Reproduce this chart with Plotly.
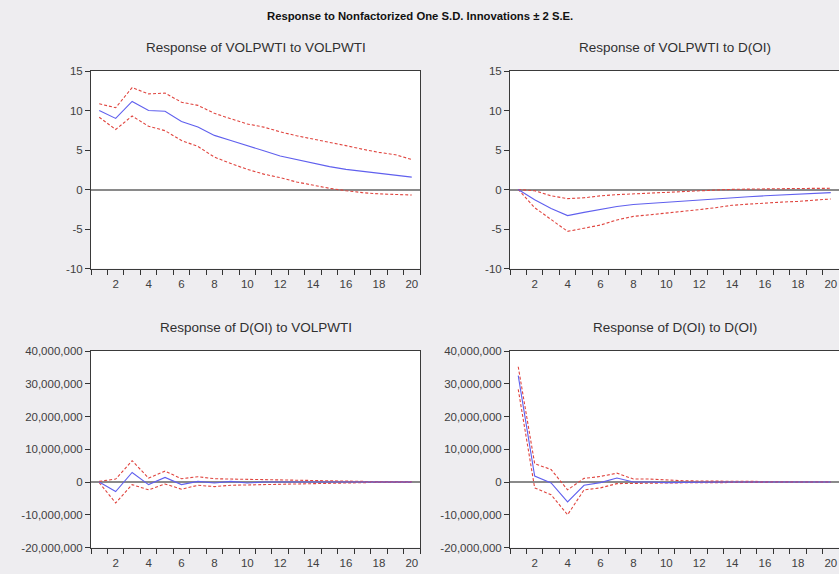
import plotly.graph_objects as go

periods = list(range(1, 21))

# Response of VOLPWTI to VOLPWTI
vv_resp = [10.0, 9.0, 11.15, 10.0, 9.9, 8.6, 7.9, 6.85, 6.2, 5.5, 4.9, 4.25, 3.8, 3.35, 2.9, 2.55, 2.3, 2.0, 1.8, 1.57]
vv_up = [10.85, 10.35, 12.9, 12.1, 12.2, 11.05, 10.65, 9.65, 8.95, 8.3, 7.9, 7.3, 6.8, 6.4, 6.0, 5.55, 5.1, 4.7, 4.4, 3.8]
vv_lo = [9.15, 7.6, 9.3, 8.0, 7.45, 6.2, 5.45, 4.1, 3.3, 2.55, 1.95, 1.5, 0.95, 0.55, 0.15, -0.15, -0.4, -0.55, -0.65, -0.7]

# Response of VOLPWTI to D(OI)
vd_resp = [0.0, -1.3, -2.4, -3.3, -2.9, -2.5, -2.15, -1.9, -1.75, -1.6, -1.47, -1.35, -1.2, -1.05, -0.92, -0.8, -0.72, -0.65, -0.52, -0.4]
vd_up = [0.0, -0.15, -0.8, -1.15, -1.05, -0.8, -0.65, -0.55, -0.45, -0.35, -0.2, -0.1, 0.0, 0.02, 0.05, 0.1, 0.12, 0.13, 0.14, 0.15]
vd_lo = [0.0, -2.3, -3.8, -5.3, -4.9, -4.5, -3.85, -3.4, -3.2, -3.0, -2.8, -2.55, -2.3, -2.0, -1.85, -1.7, -1.6, -1.5, -1.35, -1.2]

# Response of D(OI) to VOLPWTI
dv_resp = [0.0, -2.9e6, 2.9e6, -0.8e6, 1.4e6, -0.8e6, 0.2e6, -0.3e6, 0.2e6, -0.3e6, 0.0, -0.05e6, 0.02e6, -0.02e6, 0.01e6, 0.0, 0.0, 0.0, 0.0, 0.0]
dv_up = [0.2e6, 0.9e6, 6.5e6, 1.2e6, 3.3e6, 1.0e6, 1.6e6, 1.0e6, 0.9e6, 0.8e6, 0.7e6, 0.6e6, 0.4e6, 0.3e6, 0.25e6, 0.2e6, 0.15e6, 0.1e6, 0.1e6, 0.1e6]
dv_lo = [-0.2e6, -6.4e6, -0.8e6, -2.4e6, -0.6e6, -2.2e6, -1.0e6, -1.4e6, -1.0e6, -0.9e6, -0.8e6, -0.6e6, -0.4e6, -0.3e6, -0.25e6, -0.2e6, -0.15e6, -0.1e6, -0.1e6, -0.1e6]

# Response of D(OI) to D(OI)
dd_resp = [32.5e6, 1.8e6, -0.3e6, -6.1e6, -1.0e6, -0.2e6, 1.2e6, 0.0, 0.0, -0.2e6, -0.1e6, 0.0, 0.0, 0.0, 0.0, 0.0, 0.0, 0.0, 0.0, 0.0]
dd_up = [35.2e6, 5.6e6, 3.8e6, -2.4e6, 1.1e6, 1.7e6, 2.7e6, 0.9e6, 0.9e6, 0.6e6, 0.4e6, 0.3e6, 0.25e6, 0.2e6, 0.1e6, 0.05e6, 0.05e6, 0.03e6, 0.02e6, 0.02e6]
dd_lo = [28.3e6, -1.8e6, -3.9e6, -10.0e6, -2.4e6, -1.8e6, -0.5e6, -0.5e6, -0.4e6, -0.3e6, -0.25e6, -0.2e6, -0.15e6, -0.1e6, -0.1e6, -0.05e6, -0.05e6, -0.03e6, -0.02e6, -0.02e6]

titles = ["Response of VOLPWTI to VOLPWTI", "Response of VOLPWTI to D(OI)",
          "Response of D(OI) to VOLPWTI", "Response of D(OI) to D(OI)"]
panels = [(vv_resp, vv_up, vv_lo), (vd_resp, vd_up, vd_lo),
          (dv_resp, dv_up, dv_lo), (dd_resp, dd_up, dd_lo)]

top_ticks = [-10, -5, 0, 5, 10, 15]
bot_ticks = [-20000000, -10000000, 0, 10000000, 20000000, 30000000, 40000000]
x_labels = list(range(2, 21, 2))
x_minor = [i + 0.5 for i in range(0, 21)]

W, H = 839, 574
BLUE = "#6060ee"
RED = "#e0453f"
FONT = "Liberation Sans, Arial, sans-serif"

xdoms = [[91 / W, 420 / W], [510 / W, 1.0]]
ydoms = [[(H - 268.5) / H, (H - 71) / H], [(H - 547.5) / H, (H - 351) / H]]

fig = go.Figure()
for i, (resp, up, lo) in enumerate(panels):
    n = i + 1
    sx = "" if n == 1 else str(n)
    for series, color, dash in [(up, RED, "3px,2px"), (lo, RED, "3px,2px"), (resp, BLUE, "solid")]:
        fig.add_trace(go.Scatter(x=periods, y=series, mode="lines",
                                 line=dict(color=color, width=1.1, dash=dash),
                                 xaxis="x" + sx, yaxis="y" + sx, showlegend=False,
                                 hoverinfo="skip"))
    col = i % 2
    row = i // 2
    top = row == 0
    yt = top_ticks if top else bot_ticks
    xa = dict(domain=xdoms[col], range=[0.5, 20.5], anchor="y" + sx, automargin=False,
              tickmode="array", tickvals=x_labels, ticks="outside", ticklen=5,
              tickcolor="rgba(0,0,0,0)",
              minor=dict(tickmode="array", tickvals=x_minor, ticks="outside",
                         ticklen=5, tickcolor="#333333", tickwidth=1),
              showline=True, linecolor="#3a3a3a", linewidth=1, mirror=True,
              showgrid=False, zeroline=False,
              tickfont=dict(family=FONT, size=11.5, color="#404040"))
    ya = dict(domain=ydoms[row], anchor="x" + sx, automargin=False,
              range=[yt[0], yt[-1]],
              tickmode="array", tickvals=yt, ticktext=[f"{v:,}" for v in yt],
              ticks="outside", ticklen=5, tickcolor="#333333",
              showline=True, linecolor="#3a3a3a", linewidth=1, mirror=True,
              showgrid=False, zeroline=True, zerolinecolor="#8a8a8a", zerolinewidth=1.6,
              tickfont=dict(family=FONT, size=11.5, color="#404040"))
    fig.layout["xaxis" + sx] = xa
    fig.layout["yaxis" + sx] = ya
    fig.add_annotation(text=titles[i], xref="paper", yref="paper",
                       x=(xdoms[col][0] + xdoms[col][1]) / 2 if col == 0 else (510 + 839) / 2 / W,
                       y=(H - (48 if top else 327)) / H,
                       xanchor="center", yanchor="middle", showarrow=False,
                       font=dict(family=FONT, size=13.5, color="#303030"))

fig.add_annotation(text="<b>Response to Nonfactorized One S.D. Innovations ± 2 S.E.</b>",
                   xref="paper", yref="paper", x=420 / W, y=(H - 16) / H,
                   xanchor="center", yanchor="middle", showarrow=False,
                   font=dict(family=FONT, size=11.3, color="#111111"))

fig.update_layout(width=W, height=H, margin=dict(l=0, r=0, t=0, b=0, pad=0),
                  paper_bgcolor="#eeedf0", plot_bgcolor="white")
fig.write_html("out.html", config={"displayModeBar": False},
               post_script="document.body.style.margin='0px';document.body.style.overflow='hidden';")
